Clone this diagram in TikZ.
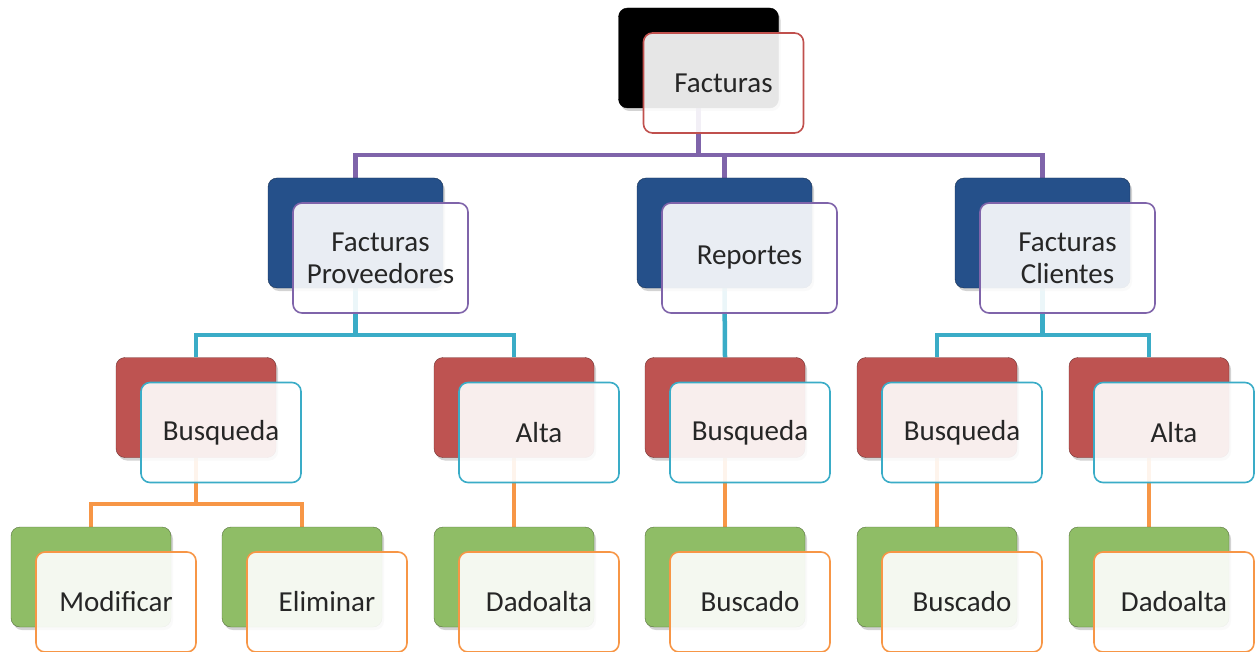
\documentclass[tikz,border=0pt]{standalone}
\usepackage{fontspec}
\setmainfont{Carlito}
\usetikzlibrary{shadows}
\pgfdeclarelayer{bg}
\pgfsetlayers{bg,main}
\definecolor{cpurple}{HTML}{7F64AA}
\definecolor{ccyan}{HTML}{3AACC7}
\definecolor{corange}{HTML}{F79646}
\definecolor{fred}{HTML}{C0504D}
\definecolor{cblue}{HTML}{25508A}
\definecolor{cred}{HTML}{BE5351}
\definecolor{cgreen}{HTML}{8FBD66}
\definecolor{txt}{HTML}{262626}
\tikzset{
  backbox/.style={rectangle, rounded corners=9pt, inner sep=0pt,
    minimum width=160pt, minimum height=100pt,
    drop shadow={shadow xshift=2pt, shadow yshift=-3pt, opacity=0.35}},
  wide/.style={minimum width=175pt, minimum height=110pt},
  frontbox/.style={rectangle, rounded corners=9pt, inner sep=0pt, line width=1.6pt,
    minimum width=160pt, minimum height=100pt, fill=white, fill opacity=0.9,
    text opacity=1, text=txt, align=center, font=\fontsize{29}{32}\selectfont},
  conn/.style={line width=4.5pt},
  k0/.style={backbox, fill=black, draw=black},
  k1/.style={backbox, wide, fill=cblue, draw=cblue!60!black},
  k2/.style={backbox, fill=cred, draw=cred!60!black},
  k3/.style={backbox, fill=cgreen, draw=cgreen!60!black},
  f0/.style={frontbox, draw=fred},
  f1/.style={frontbox, wide, draw=cpurple},
  f2/.style={frontbox, draw=ccyan},
  f3/.style={frontbox, draw=corange},
}
\begin{document}
\begin{tikzpicture}[x=1pt,y=-1pt]
\useasboundingbox (0,0) rectangle (1257,652);
% back boxes
\node[k0] (b0) at (698.5,58) {};
\node[k1] (bP) at (355.5,233) {};
\node[k1] (bR) at (724.5,233) {};
\node[k1] (bC) at (1042.5,233) {};
\node[k2] (bB1) at (196,407.5) {};
\node[k2] (bA1) at (514,407.5) {};
\node[k2] (bB2) at (725,407.5) {};
\node[k2] (bB3) at (937,407.5) {};
\node[k2] (bA3) at (1149,407.5) {};
\node[k3] (bM) at (91,577) {};
\node[k3] (bE) at (302,577) {};
\node[k3] (bD1) at (514,577) {};
\node[k3] (bS2) at (725,577) {};
\node[k3] (bS3) at (937,577) {};
\node[k3] (bD3) at (1149,577) {};
% front boxes
\node[f0] (f0) at (723.5,83) {Facturas};
\node[f1] (fP) at (380.5,258) {Facturas\\Proveedores};
\node[f1] (fR) at (749.5,258) {Reportes};
\node[f1] (fC) at (1067.5,258) {Facturas\\Clientes};
\node[f2] (fB1) at (221,432.5) {Busqueda};
\node[f2] (fA1) at (539,432.5) {Alta};
\node[f2] (fB2) at (750,432.5) {Busqueda};
\node[f2] (fB3) at (962,432.5) {Busqueda};
\node[f2] (fA3) at (1174,432.5) {Alta};
\node[f3] (fM) at (116,602) {Modificar};
\node[f3] (fE) at (327,602) {Eliminar};
\node[f3] (fD1) at (539,602) {Dadoalta};
\node[f3] (fS2) at (750,602) {Buscado};
\node[f3] (fS3) at (962,602) {Buscado};
\node[f3] (fD3) at (1174,602) {Dadoalta};
% connectors
\begin{pgfonlayer}{bg}
\draw[conn, cpurple] (b0.south) -- ++(0,47) -| (bP.north);
\draw[conn, cpurple] (b0.south) -- ++(0,47) -| (bR.north);
\draw[conn, cpurple] (b0.south) -- ++(0,47) -| (bC.north);
\draw[conn, ccyan] (bP.south) -- ++(0,47) -| (bB1.north);
\draw[conn, ccyan] (bP.south) -- ++(0,47) -| (bA1.north);
\draw[conn, ccyan] (bR.south) -- (bB2.north);
\draw[conn, ccyan] (bC.south) -- ++(0,47) -| (bB3.north);
\draw[conn, ccyan] (bC.south) -- ++(0,47) -| (bA3.north);
\draw[conn, corange] (bB1.south) -- ++(0,46.5) -| (bM.north);
\draw[conn, corange] (bB1.south) -- ++(0,46.5) -| (bE.north);
\draw[conn, corange] (bA1.south) -- (bD1.north);
\draw[conn, corange] (bB2.south) -- (bS2.north);
\draw[conn, corange] (bB3.south) -- (bS3.north);
\draw[conn, corange] (bA3.south) -- (bD3.north);
\end{pgfonlayer}
\end{tikzpicture}
\end{document}
